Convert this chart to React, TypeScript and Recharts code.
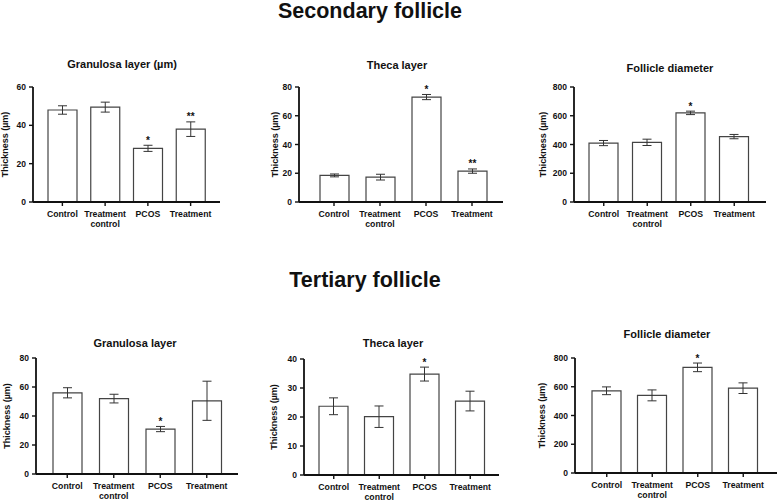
import { BarChart, Bar, XAxis, YAxis, ErrorBar, LabelList } from "recharts"

const categories = ["Control", "Treatment control", "PCOS", "Treatment"]

// Secondary follicle
const secGranulosaMean = [48, 49.5, 28, 38]
const secGranulosaErr = [2.2, 2.6, 1.6, 3.8]
const secGranulosaSig = ["", "", "*", "**"]

const secThecaMean = [18.5, 17.3, 73, 21.5]
const secThecaErr = [1, 2, 1.8, 1.5]
const secThecaSig = ["", "", "*", "**"]

const secDiameterMean = [410, 415, 620, 455]
const secDiameterErr = [18, 22, 12, 15]
const secDiameterSig = ["", "", "*", ""]

// Tertiary follicle
const terGranulosaMean = [56, 52, 31, 50.5]
const terGranulosaErr = [3.5, 3, 1.8, 13.5]
const terGranulosaSig = ["", "", "*", ""]

const terThecaMean = [23.7, 20.1, 34.8, 25.5]
const terThecaErr = [2.9, 3.7, 2.4, 3.4]
const terThecaSig = ["", "", "*", ""]

const terDiameterMean = [572, 540, 735, 590]
const terDiameterErr = [27, 38, 30, 37]
const terDiameterSig = ["", "", "*", ""]

const ticks60 = [0, 20, 40, 60]
const ticks80 = [0, 20, 40, 60, 80]
const ticks40 = [0, 10, 20, 30, 40]
const ticks800 = [0, 200, 400, 600, 800]

const FONT = "'Liberation Sans', Arial, sans-serif"
const INK = "#111"

function buildData(means: number[], errs: number[], sigs: string[]) {
  return categories.map((name, i) => ({ name, mean: means[i], err: errs[i], sig: sigs[i] }))
}

// two-line tick for "Treatment control"
const CategoryTick = (props: any) => {
  const { x, y, payload } = props
  const lines = payload.value === "Treatment control" ? ["Treatment", "control"] : [payload.value]
  return (
    <g>
      {lines.map((line: string, i: number) => (
        <text
          key={i}
          x={x}
          y={y + 9 + i * 9.5}
          textAnchor="middle"
          fontSize={8.7}
          fontWeight="bold"
          fontFamily={FONT}
          fill={INK}
        >
          {line}
        </text>
      ))}
    </g>
  )
}

interface PanelProps {
  left: number
  top: number
  width: number
  height: number
  marginTop: number
  marginRight: number
  yWidth: number
  padLeft: number
  padRight: number
  labelX: number
  domain: [number, number]
  ticks: number[]
  means: number[]
  errs: number[]
  sigs: string[]
}

function Panel(p: PanelProps) {
  const data = buildData(p.means, p.errs, p.sigs)

  // star placed above the error bar top, derived from the bar's own scale
  const renderStar = (props: any) => {
    const { x, y, width, height, index, value } = props
    if (!value) return null
    const pxPerUnit = height / p.means[index]
    const errTop = y - p.errs[index] * pxPerUnit
    return (
      <text
        x={x + width / 2}
        y={errTop - 1.5}
        textAnchor="middle"
        fontSize={10}
        fontWeight="bold"
        fontFamily={FONT}
        fill={INK}
      >
        {value}
      </text>
    )
  }

  const renderYLabel = (props: any) => {
    const { viewBox } = props
    const cy = viewBox.y + viewBox.height / 2
    return (
      <text
        x={p.labelX}
        y={cy}
        transform={`rotate(-90 ${p.labelX} ${cy})`}
        textAnchor="middle"
        dominantBaseline="central"
        fontSize={9}
        fontWeight="bold"
        fontFamily={FONT}
        fill={INK}
      >
        Thickness (µm)
      </text>
    )
  }

  return (
    <div style={{ position: "absolute", left: p.left, top: p.top }}>
      <BarChart
        width={p.width}
        height={p.height}
        data={data}
        margin={{ top: p.marginTop, right: p.marginRight, bottom: 0, left: 0 }}
      >
        <XAxis
          dataKey="name"
          height={30}
          interval={0}
          padding={{ left: p.padLeft, right: p.padRight }}
          axisLine={{ stroke: INK, strokeWidth: 1.8 }}
          tickLine={{ stroke: INK, strokeWidth: 1.4 }}
          tickSize={4}
          tick={<CategoryTick />}
        />
        <YAxis
          width={p.yWidth}
          domain={p.domain}
          ticks={p.ticks}
          interval={0}
          axisLine={{ stroke: INK, strokeWidth: 1.8 }}
          tickLine={{ stroke: INK, strokeWidth: 1.4 }}
          tickSize={4}
          tickMargin={3}
          tick={{ fontSize: 8.5, fontWeight: "bold", fontFamily: FONT, fill: INK }}
          label={{ content: renderYLabel }}
        />
        <Bar
          dataKey="mean"
          fill="#fff"
          stroke="#444"
          strokeWidth={1.2}
          barSize={29}
          isAnimationActive={false}
        >
          <ErrorBar dataKey="err" direction="y" width={4.5} stroke="#333" strokeWidth={1} />
          <LabelList dataKey="sig" content={renderStar} />
        </Bar>
      </BarChart>
    </div>
  )
}

const titleStyle = { fontFamily: FONT, fontWeight: "bold" as const, fill: INK }

export default function App() {
  return (
    <div style={{ position: "absolute", left: 0, top: 0, width: 778, height: 501, background: "#fff", overflow: "hidden" }}>
      <svg width={778} height={501} style={{ position: "absolute", left: 0, top: 0 }}>
        <text x={370} y={18} textAnchor="middle" fontSize={21.5} {...titleStyle}>Secondary follicle</text>
        <text x={365} y={287} textAnchor="middle" fontSize={21.5} {...titleStyle}>Tertiary follicle</text>
        <text x={122} y={68} textAnchor="middle" fontSize={11} {...titleStyle}>Granulosa layer (µm)</text>
        <text x={397} y={68.5} textAnchor="middle" fontSize={11} {...titleStyle}>Theca layer</text>
        <text x={670} y={72} textAnchor="middle" fontSize={11} {...titleStyle}>Follicle diameter</text>
        <text x={135} y={346.5} textAnchor="middle" fontSize={11} {...titleStyle}>Granulosa layer</text>
        <text x={393} y={347} textAnchor="middle" fontSize={11} {...titleStyle}>Theca layer</text>
        <text x={667} y={338} textAnchor="middle" fontSize={11} {...titleStyle}>Follicle diameter</text>
      </svg>

      <Panel left={0} top={80} width={250} height={152} marginTop={7} marginRight={30} yWidth={33}
        padLeft={8} padRight={8} labelX={5} domain={[0, 60]} ticks={ticks60}
        means={secGranulosaMean} errs={secGranulosaErr} sigs={secGranulosaSig} />
      <Panel left={260} top={80} width={250} height={152} marginTop={7} marginRight={7} yWidth={39}
        padLeft={12} padRight={8} labelX={15} domain={[0, 80]} ticks={ticks80}
        means={secThecaMean} errs={secThecaErr} sigs={secThecaSig} />
      <Panel left={520} top={80} width={258} height={152} marginTop={7} marginRight={12} yWidth={54}
        padLeft={8} padRight={10} labelX={23} domain={[0, 800]} ticks={ticks800}
        means={secDiameterMean} errs={secDiameterErr} sigs={secDiameterSig} />

      <Panel left={0} top={350} width={250} height={154} marginTop={8} marginRight={12} yWidth={36}
        padLeft={8} padRight={8} labelX={7} domain={[0, 80]} ticks={ticks80}
        means={terGranulosaMean} errs={terGranulosaErr} sigs={terGranulosaSig} />
      <Panel left={260} top={350} width={250} height={155} marginTop={9} marginRight={11} yWidth={44}
        padLeft={7} padRight={6} labelX={14} domain={[0, 40]} ticks={ticks40}
        means={terThecaMean} errs={terThecaErr} sigs={terThecaSig} />
      <Panel left={520} top={350} width={258} height={153} marginTop={8} marginRight={1} yWidth={55}
        padLeft={9} padRight={11} labelX={22} domain={[0, 800]} ticks={ticks800}
        means={terDiameterMean} errs={terDiameterErr} sigs={terDiameterSig} />
    </div>
  )
}
